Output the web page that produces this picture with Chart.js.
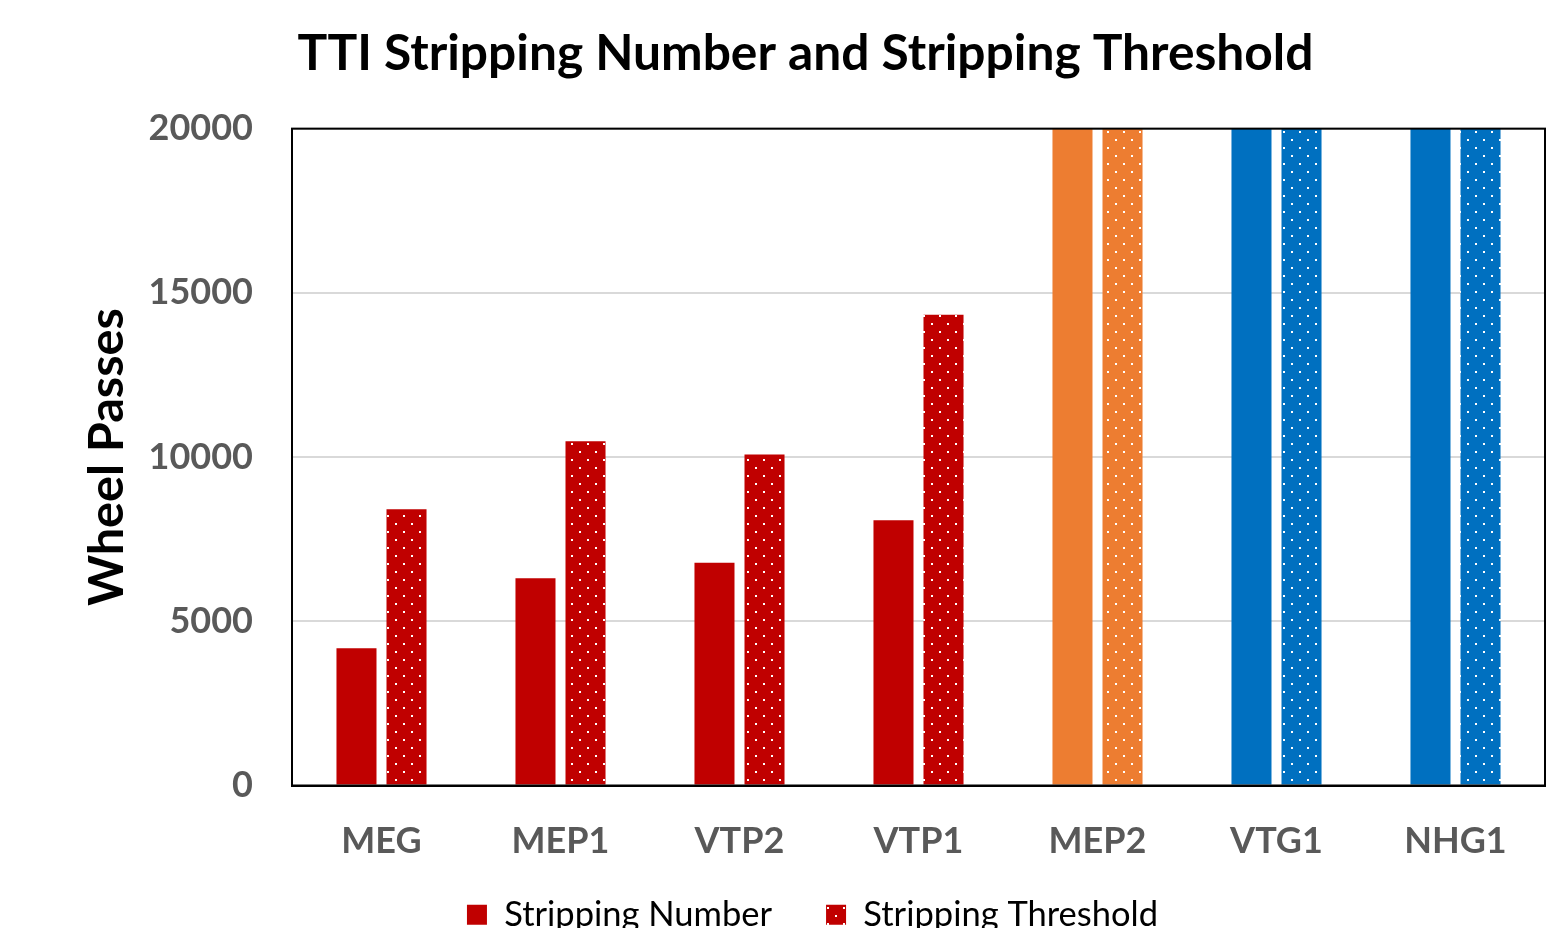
<!DOCTYPE html>
<html>
<head>
<meta charset="utf-8">
<title>TTI Stripping Number and Stripping Threshold</title>
<script src="https://cdn.jsdelivr.net/npm/chart.js@4.4.1/dist/chart.umd.min.js"></script>
<style>
  html, body { margin: 0; padding: 0; background: #fff; overflow: hidden; }
  #wrap { width: 1562px; height: 984px; position: relative; }
</style>
</head>
<body>
<div id="wrap"><canvas id="ttiChart"></canvas></div>
<script>
// chart data
const categories = ['MEG', 'MEP1', 'VTP2', 'VTP1', 'MEP2', 'VTG1', 'NHG1'];
const strippingNumber = [4180, 6310, 6780, 8080, 20000, 20000, 20000];
const strippingThreshold = [8410, 10480, 10080, 14330, 20000, 20000, 20000];
const barColors = ['#C00000', '#C00000', '#C00000', '#C00000', '#ED7D31', '#0070C0', '#0070C0'];
const yTicks = [0, 5000, 10000, 15000, 20000];

const canvas = document.getElementById('ttiChart');
const ctx = canvas.getContext('2d');

// white dot pattern over a solid fill
function dotPattern(color) {
  const c = document.createElement('canvas');
  c.width = 16; c.height = 16;
  const g = c.getContext('2d');
  g.fillStyle = color;
  g.fillRect(0, 0, 16, 16);
  g.fillStyle = '#ffffff';
  g.fillRect(3, 3, 2, 2);
  g.fillRect(11, 11, 2, 2);
  return ctx.createPattern(c, 'repeat');
}

const dottedColors = barColors.map(dotPattern);

// black box round the plot area
const frameBox = {
  id: 'frameBox',
  afterDatasetsDraw(chart) {
    const a = chart.chartArea;
    const c = chart.ctx;
    c.save();
    c.strokeStyle = '#000';
    c.lineWidth = 2;
    c.strokeRect(a.left, a.top, a.right - a.left, a.bottom - a.top);
    c.restore();
  }
};

// title and legend sit a bit right of the canvas centre in the original,
// legend is pulled up so it is cut by the bottom edge of the window
const nudge = {
  id: 'nudge',
  afterLayout(chart) {
    chart.titleBlock.left += 33;
    chart.titleBlock.right += 33;
    chart.legend.left += 40;
    chart.legend.right += 40;
    chart.legend.top -= 42;
    chart.legend.bottom -= 42;
  }
};

new Chart(ctx, {
  type: 'bar',
  data: {
    labels: categories,
    datasets: [
      {
        label: 'Stripping Number',
        data: strippingNumber,
        backgroundColor: barColors,
        borderWidth: 0,
        categoryPercentage: 0.559,
        barPercentage: 0.8
      },
      {
        label: 'Stripping Threshold',
        data: strippingThreshold,
        backgroundColor: dottedColors,
        borderWidth: 0,
        categoryPercentage: 0.559,
        barPercentage: 0.8
      }
    ]
  },
  options: {
    responsive: true,
    maintainAspectRatio: false,
    animation: false,
    layout: { padding: { left: 0, right: 17, top: 0, bottom: 0 } },
    plugins: {
      title: {
        display: true,
        text: 'TTI Stripping Number and Stripping Threshold',
        color: '#000',
        font: { family: 'Lato', size: 49.7, weight: 'bold' },
        padding: { top: 24, bottom: 45 }
      },
      legend: {
        position: 'bottom',
        labels: {
          color: '#000',
          font: { family: 'Lato', size: 34.5 },
          boxWidth: 20,
          boxHeight: 20,
          padding: 54,
          generateLabels() {
            return [
              { text: 'Stripping Number', fillStyle: '#C00000', strokeStyle: '#C00000', lineWidth: 0, datasetIndex: 0 },
              { text: 'Stripping Threshold', fillStyle: dotPattern('#C00000'), strokeStyle: '#C00000', lineWidth: 0, datasetIndex: 1 }
            ];
          }
        }
      },
      tooltip: { enabled: false }
    },
    scales: {
      x: {
        afterFit(scale) { scale.height = 100; },
        grid: { display: false, drawTicks: false },
        border: { display: true, color: '#000', width: 2 },
        ticks: {
          color: '#595959',
          font: { family: 'Lato', size: 36, weight: 'bold' },
          padding: 34
        }
      },
      y: {
        min: 0,
        max: 20000,
        afterFit(scale) { scale.width = 292; },
        afterBuildTicks(scale) { scale.ticks = yTicks.map(v => ({ value: v })); },
        grid: {
          drawTicks: false,
          color: '#d9d9d9',
          lineWidth: 2
        },
        border: { display: true, color: '#000', width: 2 },
        ticks: {
          color: '#595959',
          font: { family: 'Lato', size: 36, weight: 'bold' },
          padding: 39,
          callback: v => String(v)
        },
        title: {
          display: true,
          text: 'Wheel Passes',
          color: '#000',
          font: { family: 'Lato', size: 48.6, weight: 'bold' },
          padding: { top: 78, bottom: 0 }
        }
      }
    }
  },
  plugins: [frameBox, nudge]
});
</script>
</body>
</html>
